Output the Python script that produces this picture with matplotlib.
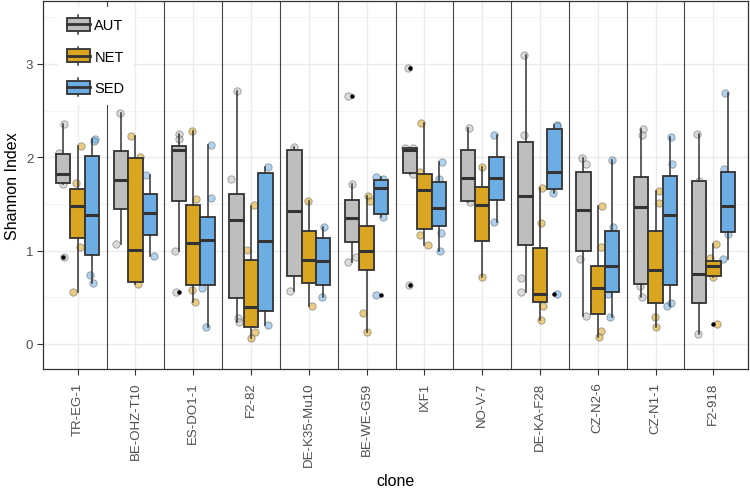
import matplotlib
matplotlib.use("Agg")
import matplotlib.pyplot as plt
import numpy as np
from matplotlib.patches import Patch, Rectangle
from matplotlib.lines import Line2D
from matplotlib.legend_handler import HandlerBase

plt.rcParams['font.family'] = ['Liberation Sans', 'DejaVu Sans']

clones = ['TR-EG-1', 'BE-OHZ-T10', 'ES-DO1-1', 'F2-82', 'DE-K35-Mu10', 'BE-WE-G59',
          'IXF1', 'NO-V-7', 'DE-KA-F28', 'CZ-N2-6', 'CZ-N1-1', 'F2-918']
groups = ['AUT', 'NET', 'SED']
colors = {'AUT': '#BEBEBE', 'NET': '#DAA520', 'SED': '#6CAEE3'}

# box stats: q1, median, q3, whisker low, whisker high
aut_q1 = [1.721, 1.446, 1.529, 0.493, 0.732, 1.096, 1.829, 1.532, 1.064, 0.993, 0.643, 0.439]
aut_med = [1.821, 1.754, 2.082, 1.332, 1.429, 1.346, 2.082, 1.775, 1.586, 1.436, 1.464, 0.750]
aut_q3 = [2.036, 2.071, 2.125, 1.607, 2.079, 1.539, 2.096, 2.082, 2.168, 1.846, 1.786, 1.743]
aut_lo = [1.714, 1.071, 1.000, 0.240, 0.571, 0.875, 1.821, 1.525, 0.554, 0.296, 0.500, 0.107]
aut_hi = [2.357, 2.471, 2.250, 2.714, 2.107, 1.714, 2.100, 2.311, 3.096, 1.989, 2.304, 2.250]

net_q1 = [1.132, 0.668, 0.636, 0.186, 0.650, 0.793, 1.232, 1.100, 0.446, 0.321, 0.436, 0.732]
net_med = [1.482, 1.007, 1.082, 0.400, 0.904, 0.993, 1.650, 1.489, 0.536, 0.604, 0.796, 0.832]
net_q3 = [1.661, 1.993, 1.489, 0.904, 1.214, 1.261, 1.821, 1.686, 1.029, 0.839, 1.214, 0.893]
net_lo = [0.554, 0.643, 0.446, 0.064, 0.404, 0.125, 1.061, 0.714, 0.257, 0.071, 0.179, 0.714]
net_hi = [2.125, 2.232, 2.286, 1.482, 1.529, 1.589, 2.364, 1.893, 1.671, 1.482, 1.636, 1.071]

sed_q1 = [0.954, 1.171, 0.632, 0.357, 0.636, 1.393, 1.261, 1.543, 1.661, 0.554, 0.632, 1.204]
sed_med = [1.386, 1.400, 1.118, 1.107, 0.886, 1.668, 1.457, 1.775, 1.839, 0.839, 1.382, 1.475]
sed_q3 = [2.018, 1.607, 1.364, 1.829, 1.132, 1.754, 1.739, 2.007, 2.304, 1.214, 1.804, 1.839]
sed_lo = [0.654, 0.946, 0.179, 0.207, 0.504, 1.357, 0.993, 1.311, 1.614, 0.286, 0.411, 0.911]
sed_hi = [2.196, 1.814, 2.136, 1.893, 1.257, 1.786, 1.954, 2.239, 2.346, 1.975, 2.214, 2.689]

aut_out = [[0.929], [], [0.554], [], [], [2.661], [2.954, 0.632], [], [], [], [], []]
net_out = [[], [], [], [], [], [], [], [], [], [], [], [0.214]]
sed_out = [[], [], [], [], [], [0.521], [], [], [0.536], [], [], []]

# raw observations (visible ones) and their jitter offsets
aut_pts = [[2.357, 2.043, 1.714, 0.929], [2.471, 1.071], [2.25, 2.2, 1.0, 0.554],
           [2.714, 1.768, 0.279, 0.239], [2.107, 0.571], [1.714, 0.875, 0.936, 2.661],
           [2.1, 2.1, 1.821, 2.954, 0.632], [2.311, 1.525], [3.096, 2.243, 0.704, 0.554],
           [1.989, 1.929, 0.911, 0.296], [2.304, 2.239, 0.625, 0.5], [2.25, 1.75, 0.107]]
aut_dx = [[0.02, -0.07, -0.01, 0.02], [-0.02, -0.08], [0, 0.01, -0.06, -0.04],
          [0.01, -0.1, 0.03, 0.04], [-0.01, -0.08], [0, -0.08, 0.06, -0.08],
          [-0.09, 0.06, 0.06, -0.03, -0.02], [0.02, 0.04], [-0.02, -0.02, -0.08, -0.07],
          [-0.02, 0.04, -0.05, 0.04], [0.03, 0.01, -0.02, 0.01], [-0.04, 0, -0.02]]

net_pts = [[2.125, 1.73, 1.036, 0.554], [2.232, 2.0, 0.643], [2.286, 1.55, 0.579, 0.446],
           [1.489, 1.011, 0.132, 0.064], [1.536, 0.404], [1.589, 1.529, 0.329, 0.125],
           [2.364, 1.846, 1.168, 1.061], [1.893, 0.714], [1.671, 1.296, 0.404, 0.257],
           [1.482, 1.036, 0.143, 0.071], [1.636, 1.511, 0.286, 0.179], [1.071, 0.918, 0.714, 0.214]]
net_dx = [[0.05, -0.03, 0.04, -0.08], [-0.07, 0.07, 0.04], [-0.03, 0.05, -0.03, 0.03],
          [0.05, -0.07, 0.06, 0], [-0.01, 0.05], [0.02, 0.06, -0.07, 0.01],
          [-0.06, -0.07, -0.07, 0.07], [0, 0], [0.03, 0.01, 0.06, 0.01],
          [0.07, 0.05, 0.05, 0.02], [0.06, 0.06, -0.01, 0.01], [0.04, -0.06, 0, 0.06]]

sed_pts = [[2.196, 2.175, 0.739, 0.654], [1.814, 0.946], [2.136, 1.561, 0.604, 0.179],
           [1.893, 0.207], [1.257, 0.504], [1.786, 1.768, 1.357, 0.521],
           [1.954, 1.768, 1.186, 0.993], [2.239, 1.311], [2.346, 2.332, 1.614, 0.536],
           [1.975, 1.25, 0.536, 0.286], [2.214, 1.929, 0.411, 0.436], [2.689, 1.875, 1.18, 0.911]]
sed_dx = [[0.05, 0.04, -0.04, 0.01], [-0.06, 0.07], [0.06, 0.06, -0.09, -0.03],
          [0.05, 0.05], [0.02, -0.03], [-0.08, 0.04, 0.04, -0.08],
          [0.06, 0, 0.03, 0.02], [-0.05, -0.05], [0.04, 0.05, -0.02, 0.04],
          [-0.01, 0.02, -0.07, -0.04], [0.02, 0.04, -0.06, 0.01], [-0.05, -0.06, 0, -0.09]]

data = {
    'AUT': (aut_q1, aut_med, aut_q3, aut_lo, aut_hi, aut_out, aut_pts, aut_dx),
    'NET': (net_q1, net_med, net_q3, net_lo, net_hi, net_out, net_pts, net_dx),
    'SED': (sed_q1, sed_med, sed_q3, sed_lo, sed_hi, sed_out, sed_pts, sed_dx),
}
shift = {'AUT': -0.25, 'NET': 0.0, 'SED': 0.25}
dark = '#333333'

fig = plt.figure(figsize=(7.5, 4.89), dpi=100)
ax = fig.add_axes([43/750, 1-370/489, 705/750, 368/489])

x = np.arange(len(clones))
for g in groups:
    q1, med, q3, lo, hi, out, pts, dx = data[g]
    # jittered raw points (under the boxes)
    for i in range(len(clones)):
        xs = x[i] + shift[g] + np.array(dx[i])
        ax.scatter(xs, pts[i], s=28, facecolor=colors[g], edgecolor='#555555',
                   linewidths=0.6, alpha=0.55, zorder=2)
    stats = [dict(q1=q1[i], med=med[i], q3=q3[i], whislo=lo[i], whishi=hi[i],
                  fliers=out[i]) for i in range(len(clones))]
    ax.bxp(stats, positions=x + shift[g], widths=0.25, patch_artist=True,
           showcaps=False, showfliers=True, manage_ticks=False,
           boxprops=dict(facecolor=colors[g], edgecolor=dark, linewidth=1.3),
           whiskerprops=dict(color=dark, linewidth=1.1),
           medianprops=dict(color=dark, linewidth=2.2, solid_capstyle='butt'),
           flierprops=dict(marker='o', markersize=2.2, markerfacecolor='black',
                           markeredgecolor='black'),
           zorder=3)

# separators between clones
for i in range(len(clones) - 1):
    ax.axvline(i + 0.5, color='#444444', lw=0.8, zorder=1.5)

ax.set_xlim(-0.6, len(clones) - 0.4)
ax.set_ylim(-0.268, 3.675)
ax.set_xticks(x)
ax.set_xticklabels(clones, rotation=90)
ax.set_yticks([0, 1, 2, 3])
ax.set_yticks([0.5, 1.5, 2.5, 3.5], minor=True)
ax.grid(True, which='major', color='#EBEBEB', lw=1.0, zorder=0)
ax.grid(True, which='minor', axis='y', color='#F2F2F2', lw=0.6, zorder=0)
ax.set_axisbelow(True)
ax.tick_params(axis='both', which='major', length=4, width=0.8, color='#333333',
               labelcolor='#4D4D4D', labelsize=9.5, pad=3)
ax.tick_params(axis='x', which='major', pad=5)
ax.tick_params(axis='both', which='minor', length=0)
for s in ax.spines.values():
    s.set_color('#333333')
    s.set_linewidth(0.9)

ax.set_ylabel('Shannon Index', fontsize=11.5, labelpad=4)
ax.set_xlabel('clone', fontsize=11.5, labelpad=5)


class BoxKey(HandlerBase):
    def create_artists(self, legend, orig_handle, xdescent, ydescent, width, height,
                       fontsize, trans):
        x0, y0 = -xdescent, -ydescent
        bh = height * 0.7
        by = y0 + (height - bh) / 2
        cx = x0 + width / 2
        w1 = Line2D([cx, cx], [y0, by], color=dark, lw=1.1, transform=trans)
        w2 = Line2D([cx, cx], [by + bh, y0 + height], color=dark, lw=1.1, transform=trans)
        r = Rectangle((x0, by), width, bh, facecolor=orig_handle.get_facecolor(),
                      edgecolor=dark, lw=1.3, transform=trans)
        m = Line2D([x0, x0 + width], [by + bh / 2] * 2, color=dark, lw=2.0, transform=trans)
        return [w1, w2, r, m]


handles = [Patch(facecolor=colors[g]) for g in groups]
leg = ax.legend(handles, groups, handler_map={Patch: BoxKey()}, loc='upper left',
                bbox_to_anchor=(0.021, 0.985), frameon=True, facecolor='white',
                edgecolor='none', fancybox=False, framealpha=1, fontsize=10.5,
                handlelength=1.6, handleheight=1.55, labelspacing=0.9,
                handletextpad=0.3, borderpad=0.6, borderaxespad=0)
leg.set_zorder(5)

fig.savefig('out.png', dpi=100)
